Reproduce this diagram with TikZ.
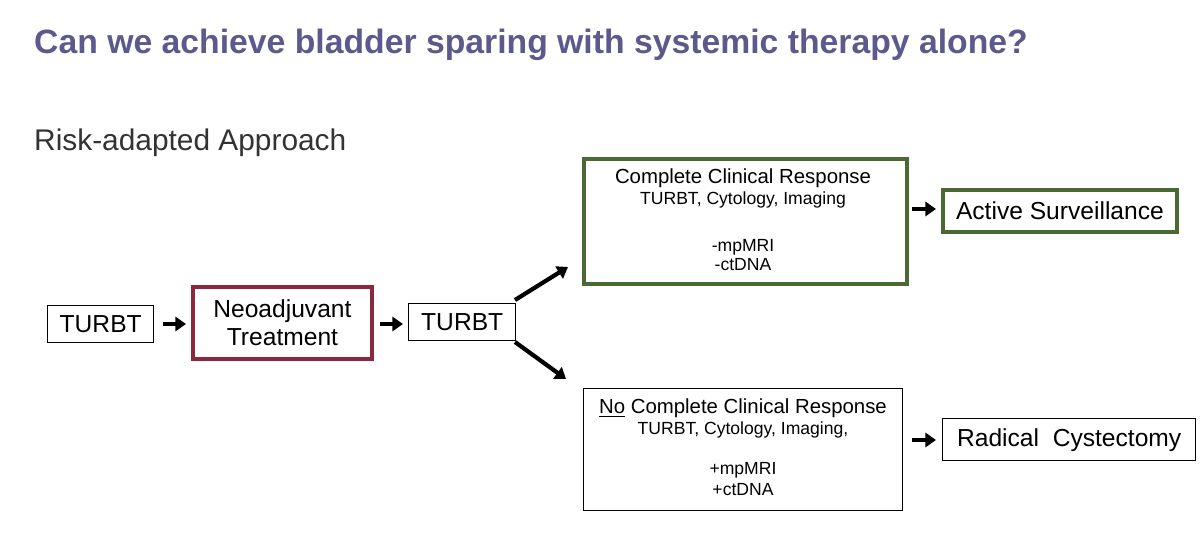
\documentclass[tikz,border=0pt]{standalone}
\usepackage{fontspec}
\setmainfont{Liberation Sans}
\usetikzlibrary{arrows.meta}
\definecolor{titlecol}{RGB}{92,90,140}
\definecolor{redbox}{RGB}{140,40,62}
\definecolor{greenbox}{RGB}{75,105,50}
\tikzset{
  box/.style={draw, line width=0.8pt, inner sep=0pt, anchor=north west},
  arr/.style={-{Triangle[length=6pt,width=8pt]}, line width=2.4pt},
  big/.style={font=\fontsize{14}{16}\selectfont},
  head/.style={font=\fontsize{11.6}{14}\selectfont},
  small/.style={font=\fontsize{10}{12}\selectfont}
}
\begin{document}
\begin{tikzpicture}[x=0.02cm,y=-0.02cm]
		\useasboundingbox (0,0) rectangle (1200,533);
		
		\node[anchor=west, text=titlecol, font=\fontsize{19.2}{21}\selectfont\bfseries] (title) at (28,45) {Can we achieve bladder sparing with systemic therapy alone?};
		\node[anchor=west, text=black!80, font=\fontsize{17}{19}\selectfont] (approach) at (28,143) {Risk-adapted Approach};
		
		\node[box, minimum width=106*0.02cm, minimum height=37*0.02cm, big] (t1) at (47,305) {TURBT};
		\node[box, draw=redbox, line width=2.2pt, minimum width=179*0.02cm, minimum height=72*0.02cm, big, align=center] (neo) at (191,285) {Neoadjuvant\\Treatment};
		\node[box, minimum width=107*0.02cm, minimum height=37*0.02cm, big] (t2) at (408,303) {TURBT};
		
		\node[box, draw=greenbox, line width=2.2pt, minimum width=323*0.02cm, minimum height=125*0.02cm] (ccr) at (582,157) {};
		\node[head] (ccr1) at (743,178) {Complete Clinical Response};
		\node[small] (ccr2) at (743,200) {TURBT, Cytology, Imaging};
		\node[small] (ccr3) at (743,247) {-mpMRI};
		\node[small] (ccr4) at (743,265) {-ctDNA};
		
		\node[box, minimum width=319*0.02cm, minimum height=122*0.02cm] (nccr) at (583,388) {};
		\node[head] (nccr1) at (743,408) {\underline{No} Complete Clinical Response};
		\node[small] (nccr2) at (743,430) {TURBT, Cytology, Imaging,};
		\node[small] (nccr3) at (743,470) {+mpMRI};
		\node[small] (nccr4) at (743,490) {+ctDNA};
		
		\node[box, draw=greenbox, line width=2.2pt, minimum width=234*0.02cm, minimum height=42*0.02cm, big] (as) at (941,188) {Active Surveillance};
		\node[box, minimum width=253*0.02cm, minimum height=42*0.02cm, big] (rc) at (942,418) {Radical\ \ Cystectomy};
		
		\coordinate (a1s) at (163,324); \coordinate (a1e) at (186,324);
		\coordinate (a2s) at (380,324); \coordinate (a2e) at (403,324);
		\coordinate (d1s) at (515,300); \coordinate (d1e) at (568,267);
		\coordinate (d2s) at (515,342); \coordinate (d2e) at (566,379);
		\coordinate (a3s) at (912,209); \coordinate (a3e) at (936,209);
		\coordinate (a4s) at (912,440); \coordinate (a4e) at (936,440);
		
		\draw[arr] (a1s) -- (a1e);
		\draw[arr] (a2s) -- (a2e);
		\draw[arr] (d1s) -- (d1e);
		\draw[arr] (d2s) -- (d2e);
		\draw[arr] (a3s) -- (a3e);
		\draw[arr] (a4s) -- (a4e);
		
\end{tikzpicture}
\end{document}
